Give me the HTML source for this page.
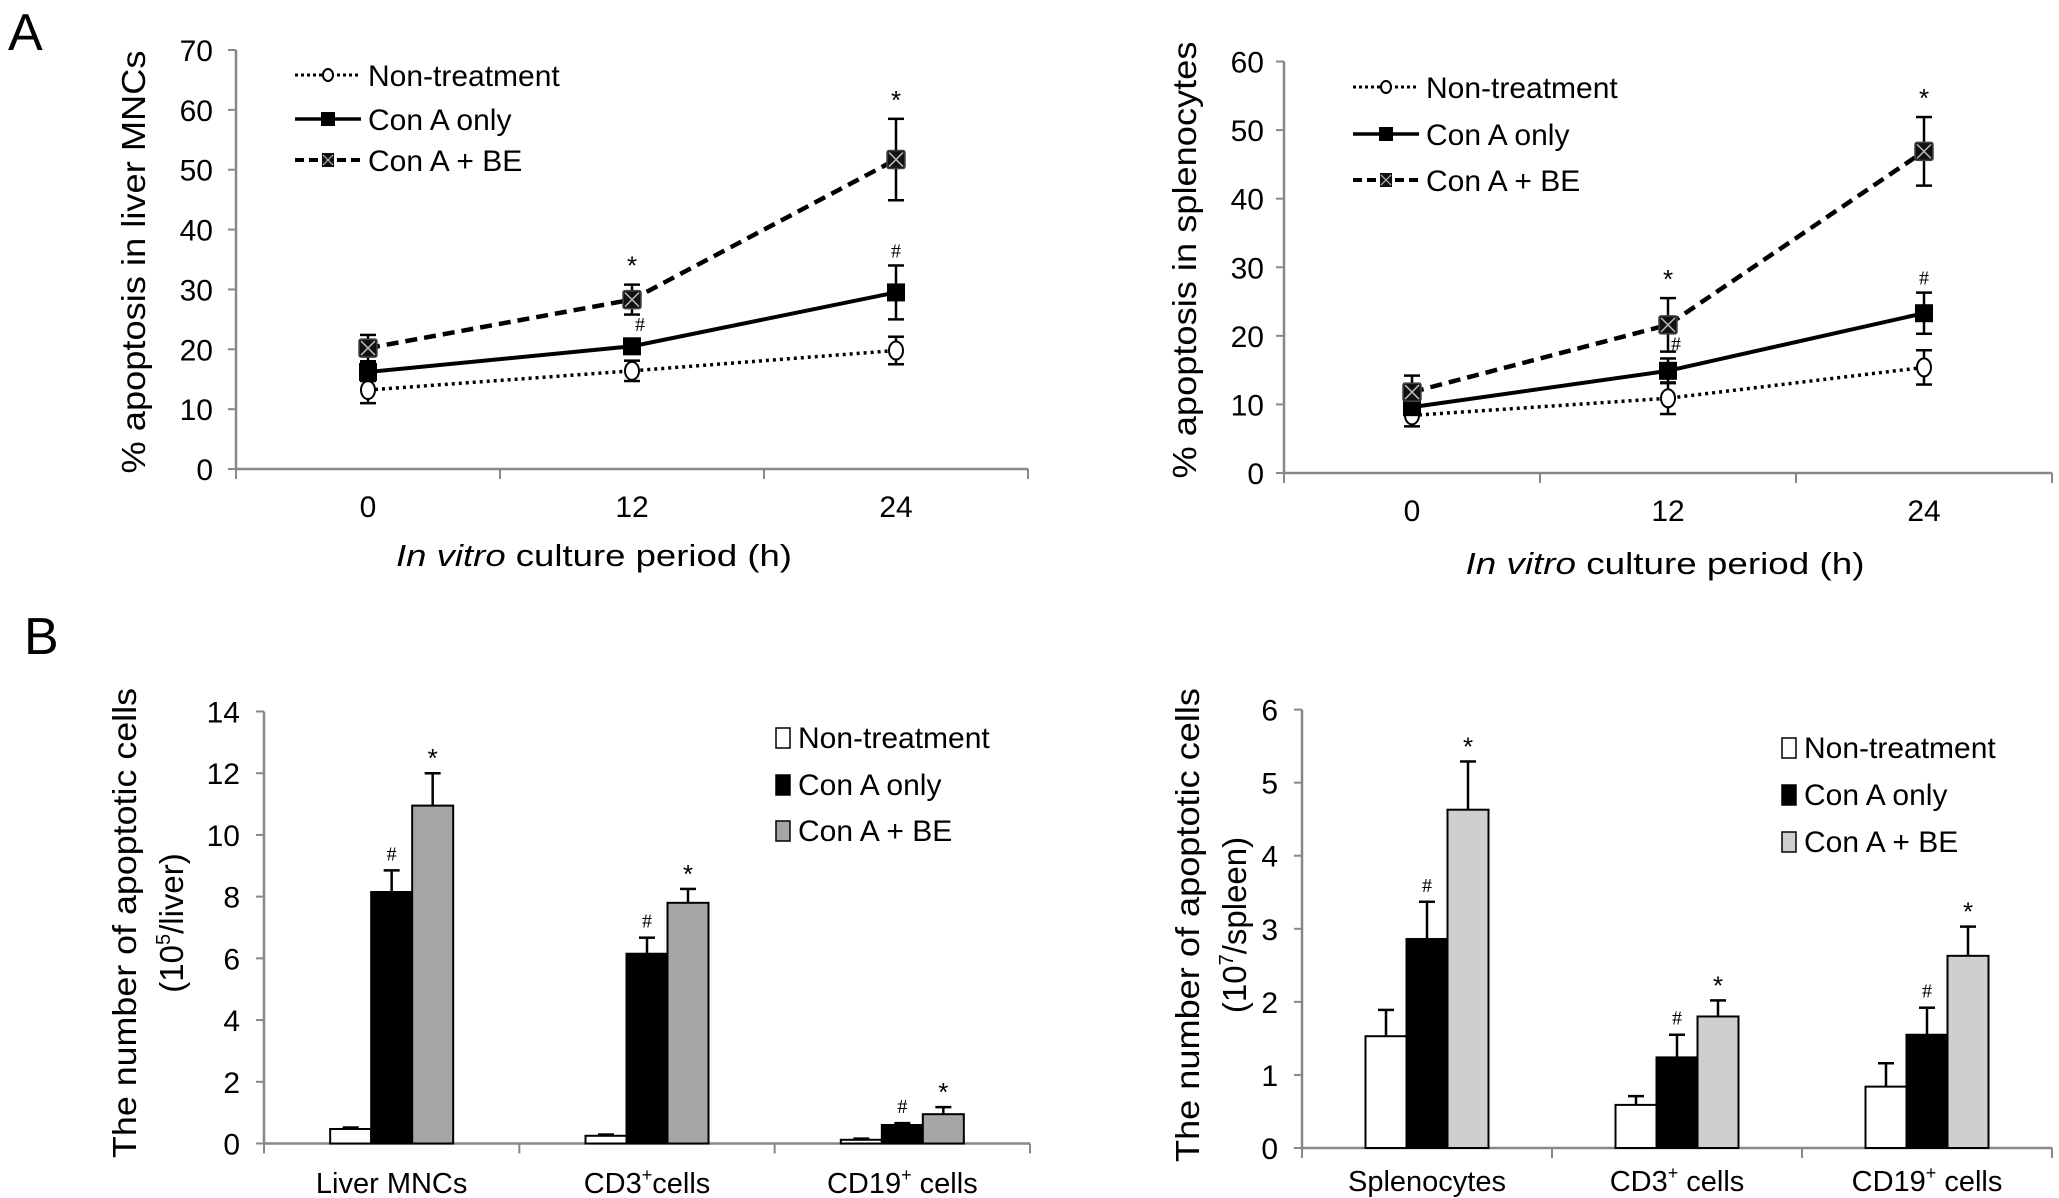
<!DOCTYPE html>
<html><head><meta charset="utf-8"><style>
html,body{margin:0;padding:0;background:#fff;}
svg{display:block;font-family:"Liberation Sans",Arial,sans-serif;}
</style></head><body>
<svg id="fig" width="2059" height="1198" viewBox="0 0 2059 1198" xmlns="http://www.w3.org/2000/svg">
<text x="8" y="50" font-size="52">A</text>
<text x="24" y="654" font-size="52">B</text>
</svg>
<script>
// ---- Panel A data ----
const timeCats = ["0","12","24"];
const liverNT = [13.2, 16.4, 19.8];
const liverNTerr = [2.2, 1.7, 2.3];
const liverConA = [16.2, 20.5, 29.5];
const liverConAerr = [1.5, 1.2, 4.5];
const liverBE = [20.2, 28.3, 51.7];
const liverBEerr = [2.2, 2.5, 6.8];
const liverTicks = [0,10,20,30,40,50,60,70];
const splNT = [8.4, 10.9, 15.4];
const splNTerr = [1.6, 2.3, 2.5];
const splConA = [9.6, 14.9, 23.3];
const splConAerr = [1.0, 1.8, 3.0];
const splBE = [11.8, 21.6, 46.9];
const splBEerr = [2.4, 3.9, 5.0];
const splTicks = [0,10,20,30,40,50,60];
// ---- Panel B data ----
const liverGroups = ["Liver MNCs","CD3+cells","CD19+ cells"];
const bLiverNT = [0.47, 0.25, 0.12];
const bLiverNTerr = [0.05, 0.04, 0.04];
const bLiverConA = [8.15, 6.15, 0.6];
const bLiverConAerr = [0.7, 0.52, 0.06];
const bLiverBE = [10.95, 7.8, 0.95];
const bLiverBEerr = [1.05, 0.45, 0.23];
const bLiverTicks = [0,2,4,6,8,10,12,14];
const splGroups = ["Splenocytes","CD3+ cells","CD19+ cells"];
const bSplNT = [1.53, 0.59, 0.84];
const bSplNTerr = [0.36, 0.12, 0.32];
const bSplConA = [2.86, 1.24, 1.55];
const bSplConAerr = [0.51, 0.31, 0.37];
const bSplBE = [4.63, 1.80, 2.63];
const bSplBEerr = [0.66, 0.22, 0.40];
const bSplTicks = [0,1,2,3,4,5,6];

const NS="http://www.w3.org/2000/svg";
const svg=document.getElementById('fig');
function el(tag,attrs,parent){const e=document.createElementNS(NS,tag);for(const k in attrs)e.setAttribute(k,attrs[k]);(parent||svg).appendChild(e);return e;}
function txt(x,y,s,size,anchor,parent,extra){const t=el('text',Object.assign({x:x,y:y,'font-size':size,'text-anchor':anchor||'start',fill:'#000'},extra||{}),parent);t.textContent=s;return t;}

function axes(g,x0,x1,yTop,yBot,ticks,maxV,nCat,tickLabelX){
  const ys=v=>yBot-(v/maxV)*(yBot-yTop);
  el('line',{x1:x0,y1:yTop,x2:x0,y2:yBot,stroke:'#888','stroke-width':2.5},g);
  el('line',{x1:x0,y1:yBot,x2:x1,y2:yBot,stroke:'#888','stroke-width':2.5},g);
  ticks.forEach(v=>{
    el('line',{x1:x0-8,y1:ys(v),x2:x0,y2:ys(v),stroke:'#888','stroke-width':2},g);
    const t=txt(tickLabelX,ys(v)+11,String(v),30,'end',g);
    
    
  });
  const step=(x1-x0)/nCat;
  for(let i=0;i<=nCat;i++){el('line',{x1:x0+i*step,y1:yBot,x2:x0+i*step,y2:yBot+10,stroke:'#888','stroke-width':2},g);}
  return ys;
}

function lineChart(name,cfg){
  const g=el('g',{});
  
  
  const ys=axes(g,cfg.x0,cfg.x1,cfg.yTop,cfg.yBot,cfg.ticks,cfg.maxV,3,cfg.tlx);
  const step=(cfg.x1-cfg.x0)/3;
  const xs=i=>cfg.x0+step*(i+0.5);
  timeCats.forEach((c,i)=>{const t=txt(xs(i),cfg.yBot+48,c,30,'middle',g);});
  const series=[
    {v:cfg.nt,e:cfg.nte,dash:'3,4',w:3.5,m:'circle',name:'non-treatment'},
    {v:cfg.ca,e:cfg.cae,dash:'none',w:4,m:'square',name:'con-a-only'},
    {v:cfg.be,e:cfg.bee,dash:'12,7',w:4.5,m:'xsquare',name:'con-a-be'}];
  series.forEach(s=>{
    const sg=el('g',{},g);
    
    
    s.v.forEach((v,i)=>{
      const x=xs(i);
      el('line',{x1:x,y1:ys(v+s.e[i]),x2:x,y2:ys(v-s.e[i]),stroke:'#000','stroke-width':2.5},sg);
      el('line',{x1:x-8,y1:ys(v+s.e[i]),x2:x+8,y2:ys(v+s.e[i]),stroke:'#000','stroke-width':2.5},sg);
      el('line',{x1:x-8,y1:ys(v-s.e[i]),x2:x+8,y2:ys(v-s.e[i]),stroke:'#000','stroke-width':2.5},sg);
    });
    const pts=s.v.map((v,i)=>xs(i)+','+ys(v)).join(' ');
    el('polyline',{points:pts,fill:'none',stroke:'#000','stroke-width':s.w,'stroke-dasharray':s.dash},sg);
    s.v.forEach((v,i)=>{
      const x=xs(i),y=ys(v);let mk;
      if(s.m==='circle'){mk=el('ellipse',{cx:x,cy:y,rx:7,ry:9,fill:'#fff',stroke:'#000','stroke-width':2},sg);}
      else if(s.m==='square'){mk=el('rect',{x:x-9,y:y-9,width:18,height:18,fill:'#000'},sg);}
      else{mk=el('rect',{x:x-9,y:y-9,width:18,height:18,fill:'#111',stroke:'#444','stroke-width':1.5,rx:2},sg);
        el('line',{x1:x-7,y1:y-7,x2:x+7,y2:y+7,stroke:'#bbb','stroke-width':1.5},sg);
        el('line',{x1:x-7,y1:y+7,x2:x+7,y2:y-7,stroke:'#bbb','stroke-width':1.5},sg);}
      
      
    });
  });
  // annotations
  [1,2].forEach(i=>{
    const a=txt(xs(i),ys(cfg.be[i]+cfg.bee[i])-10,'*',26,'middle',g);
    const hx=i===1?xs(i)+8:xs(i);
    const b=txt(hx,ys(cfg.ca[i]+cfg.cae[i])-8,'#',20,'middle',g,{'font-family':'Liberation Serif'});
  });
  // legend
  const lg=el('g',{},g);
  
  
  const labels=['Non-treatment','Con A only','Con A + BE'];
  series.forEach((s,k)=>{
    const y=cfg.legY[k];
    el('line',{x1:cfg.legX,y1:y,x2:cfg.legX+66,y2:y,stroke:'#000','stroke-width':s.w-0.5,'stroke-dasharray':s.dash==='3,4'?'3,3':(s.dash==='12,7'?'9,5':'none')},lg);
    const cx=cfg.legX+33;
    if(s.m==='circle')el('ellipse',{cx:cx,cy:y,rx:5,ry:6,fill:'#fff',stroke:'#000','stroke-width':2},lg);
    else if(s.m==='square')el('rect',{x:cx-7,y:y-7,width:14,height:14,fill:'#000'},lg);
    else{el('rect',{x:cx-6,y:y-7,width:12,height:14,fill:'#111'},lg);el('line',{x1:cx-5,y1:y-5,x2:cx+5,y2:y+5,stroke:'#bbb','stroke-width':1.2},lg);el('line',{x1:cx-5,y1:y+5,x2:cx+5,y2:y-5,stroke:'#bbb','stroke-width':1.2},lg);}
    const t=txt(cfg.legX+73,y+11,labels[k],30,'start',lg);
    
    
  });
  // titles
  const xt=el('text',{x:cfg.xtX,y:cfg.xtY,'font-size':31,'text-anchor':'middle',textLength:cfg.xtLen,lengthAdjust:'spacingAndGlyphs'},g);
  
  
  const ts=el('tspan',{'font-style':'italic'},xt);ts.textContent='In vitro';
  const ts2=el('tspan',{},xt);ts2.textContent=' culture period (h)';
  const yt=txt(0,0,cfg.ytitle,33,'middle',g,{transform:'translate('+cfg.ytX+','+cfg.ytY+') rotate(-90)',textLength:cfg.ytLen,lengthAdjust:'spacingAndGlyphs'});
  
  
}

lineChart('liver-apoptosis-chart',{x0:236,x1:1028,yTop:50,yBot:469,ticks:liverTicks,maxV:70,tlx:213,
  nt:liverNT,nte:liverNTerr,ca:liverConA,cae:liverConAerr,be:liverBE,bee:liverBEerr,
  legX:295,legY:[75,119,160],xtX:594,xtY:566,xtLen:396,ytitle:'% apoptosis in liver MNCs',ytX:145,ytY:262,ytLen:423});
lineChart('spleen-apoptosis-chart',{x0:1284,x1:2052,yTop:61.5,yBot:473,ticks:splTicks,maxV:60,tlx:1264,
  nt:splNT,nte:splNTerr,ca:splConA,cae:splConAerr,be:splBE,bee:splBEerr,
  legX:1353,legY:[87,134,180],xtX:1665,xtY:574,xtLen:399,ytitle:'% apoptosis in splenocytes',ytX:1196,ytY:260,ytLen:437});

function barChart(name,cfg){
  const g=el('g',{});
  
  
  const ys=axes(g,cfg.x0,cfg.x1,cfg.yTop,cfg.yBot,cfg.ticks,cfg.maxV,3,cfg.tlx);
  const step=(cfg.x1-cfg.x0)/3;const bw=41;
  const series=[{v:cfg.nt,e:cfg.nte,fill:'#fff',n:'non-treatment'},{v:cfg.ca,e:cfg.cae,fill:'#000',n:'con-a-only'},{v:cfg.be,e:cfg.bee,fill:cfg.grey,n:'con-a-be'}];
  cfg.groups.forEach((grp,i)=>{
    const cx=cfg.x0+step*(i+0.5);
    series.forEach((s,k)=>{
      const x=cx+(k-1.5)*bw;const v=s.v[i];
      const top=ys(v+s.e[i]);
      el('line',{x1:x+bw/2,y1:ys(v),x2:x+bw/2,y2:top,stroke:'#000','stroke-width':2.5},g);
      el('line',{x1:x+bw/2-8,y1:top,x2:x+bw/2+8,y2:top,stroke:'#000','stroke-width':2.5},g);
      const r=el('rect',{x:x,y:ys(v),width:bw,height:cfg.yBot-ys(v),fill:s.fill,stroke:'#000','stroke-width':2},g);
      
      
      if(k===1){const h=txt(x+bw/2,top-10,'#',20,'middle',g,{'font-family':'Liberation Serif'});}
      if(k===2){const h=txt(x+bw/2,top-6,'*',26,'middle',g);}
    });
    const parts=grp.split('+');
    const t=el('text',{x:cx,y:cfg.labY,'font-size':29,'text-anchor':'middle'},g);
    
    
    if(parts.length>1){const a=el('tspan',{},t);a.textContent=parts[0];const b=el('tspan',{'font-size':18,dy:-12},t);b.textContent='+';const c=el('tspan',{dy:12},t);c.textContent=parts[1];}
    else t.textContent=grp;
  });
  const lg=el('g',{},g);
  
  
  ['Non-treatment','Con A only','Con A + BE'].forEach((l,k)=>{
    const y=cfg.legY[k];
    el('rect',{x:cfg.legX,y:y-9,width:14,height:20,fill:series[k].fill,stroke:'#000','stroke-width':1.5},lg);
    const t=txt(cfg.legX+22,y+11,l,30,'start',lg);
    
    
  });
  const y1=txt(0,0,'The number of apoptotic cells',33,'middle',g,{transform:'translate('+cfg.ytX+','+cfg.ytY+') rotate(-90)',textLength:cfg.ytLen,lengthAdjust:'spacingAndGlyphs'});
  
  
  const y2=el('text',{transform:'translate('+(cfg.ytX+47)+','+cfg.ytY+') rotate(-90)','font-size':33,'text-anchor':'middle'},g);
  
  
  const p1=el('tspan',{},y2);p1.textContent='(10';
  const p2=el('tspan',{'font-size':20,dy:-13},y2);p2.textContent=cfg.exp;
  const p3=el('tspan',{dy:13},y2);p3.textContent=cfg.unit+')';
}

barChart('liver-apoptotic-count-chart',{x0:264,x1:1030,yTop:711.5,yBot:1143.5,ticks:bLiverTicks,maxV:14,tlx:240,
  groups:liverGroups,nt:bLiverNT,nte:bLiverNTerr,ca:bLiverConA,cae:bLiverConAerr,be:bLiverBE,bee:bLiverBEerr,grey:'#a6a6a6',
  labY:1193,legX:776,legY:[737,784,830],ytX:136,ytY:923,ytLen:470,exp:'5',unit:'/liver'});
barChart('spleen-apoptotic-count-chart',{x0:1302,x1:2052,yTop:709.6,yBot:1148,ticks:bSplTicks,maxV:6,tlx:1278,
  groups:splGroups,nt:bSplNT,nte:bSplNTerr,ca:bSplConA,cae:bSplConAerr,be:bSplBE,bee:bSplBEerr,grey:'#cfcfcf',
  labY:1191,legX:1782,legY:[747,794,841],ytX:1199,ytY:925,ytLen:474,exp:'7',unit:'/spleen'});
</script>
</body></html>
